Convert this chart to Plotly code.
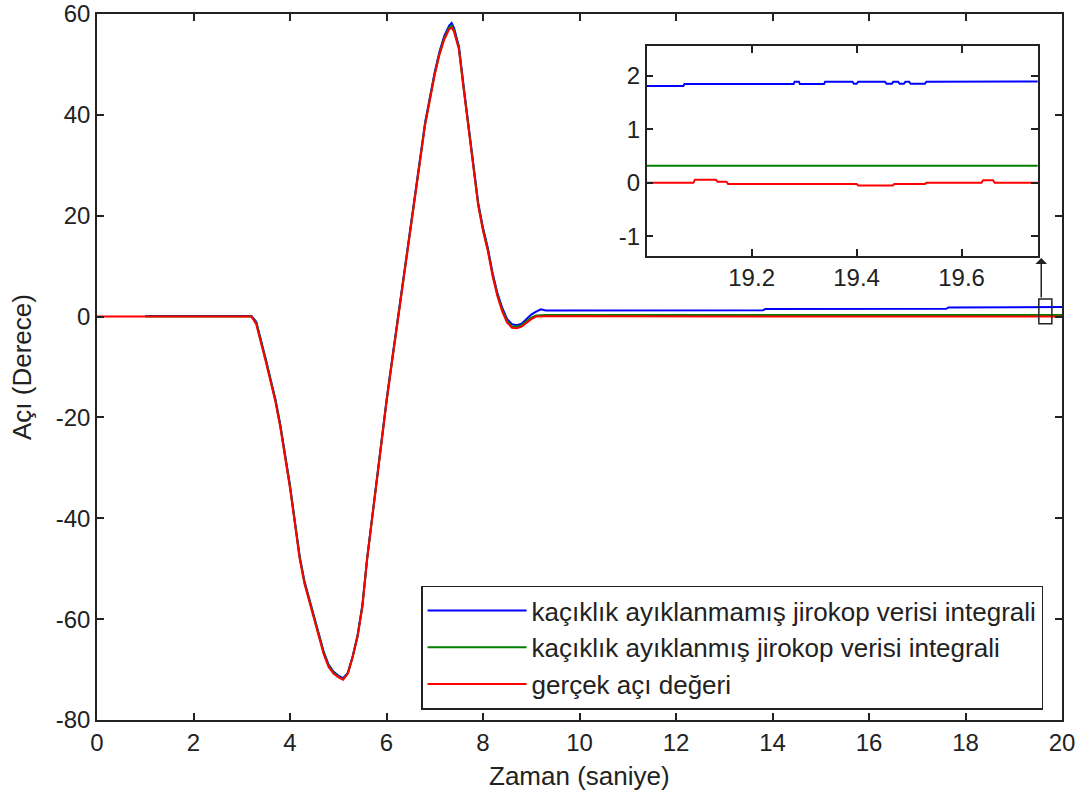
import plotly.graph_objects as go

# ---------------- data ----------------
TR_T = [3.2, 3.3, 3.4, 3.5, 3.6, 3.7, 3.8, 3.9, 4.0, 4.1, 4.2, 4.3, 4.4, 4.5, 4.6, 4.7, 4.8, 4.9,
        5.0, 5.1, 5.2, 5.3, 5.4, 5.5, 5.6, 5.7, 5.8, 5.9, 6.0, 6.1, 6.2, 6.3, 6.4, 6.5, 6.6, 6.7,
        6.8, 6.9, 7.0, 7.1, 7.2, 7.3, 7.35, 7.4, 7.5, 7.6, 7.7, 7.8, 7.9, 8.0, 8.1, 8.2, 8.3, 8.4,
        8.5, 8.6, 8.7, 8.8, 8.9, 9.0, 9.1, 9.2, 9.3]

red_pre_t = [0, 1, 2, 3]
red_pre_v = [0, 0, 0, 0]
red_tr_v = [0, -1.5, -5, -9, -13, -17, -22, -28, -34, -41, -48, -53, -56.5, -60, -63.5, -67, -69.5,
            -70.8, -71.5, -72, -70.8, -67.5, -63.5, -57.5, -48, -40, -33, -25, -17, -10, -3, 4, 11,
            18, 25, 32, 38, 43, 48, 52, 55, 57, 57.3, 56.5, 53, 45, 37, 29, 22, 17, 13, 8, 4, 1,
            -1.2, -2.2, -2.3, -2.0, -1.3, -0.5, 0, 0.1, 0.05]
red_post_t = [10, 12, 14, 16, 18, 19.0, 19.089, 19.092, 19.132, 19.135, 19.152, 19.155, 19.40,
              19.403, 19.469, 19.472, 19.53, 19.533, 19.638, 19.641, 19.66, 19.663, 20.0]
red_post_v = [0.05, 0.05, 0.05, 0.05, 0.05, 0.0, 0.0, 0.06, 0.06, 0.02, 0.02, -0.02, -0.02,
              -0.05, -0.05, -0.02, -0.02, 0.0, 0.0, 0.05, 0.05, 0.0, 0.0]

blue_pre_t = [1, 2, 3]
blue_pre_v = [0.1, 0.1, 0.1]
blue_tr_v = [0.1, -1.0, -4.5, -8.5, -12.5, -16.5, -21.5, -27.5, -33.5, -40.5, -47.5, -52.5, -56,
             -59.5, -63, -66.5, -69, -70.4, -71.2, -71.7, -70.6, -67.3, -63.2, -57.2, -47.8, -39.7,
             -32.6, -24.6, -16.6, -9.6, -2.6, 4.5, 11.5, 18.5, 25.5, 32.5, 38.5, 43.5, 48.5, 52.6,
             55.7, 57.7, 58.2, 57.2, 53.6, 45.6, 37.6, 29.6, 22.6, 17.6, 13.6, 8.6, 4.6, 1.7, -0.5,
             -1.5, -1.7, -1.4, -0.5, 0.4, 1.0, 1.45, 1.2]
blue_post_t = [9.5, 12, 13.8, 13.85, 17.6, 17.65, 19.0, 19.07, 19.072, 19.28, 19.282, 19.29,
               19.292, 19.338, 19.34, 19.392, 19.395, 19.40, 19.403, 19.454, 19.457, 19.467,
               19.47, 19.479, 19.482, 19.49, 19.493, 19.50, 19.503, 19.53, 19.533, 20.0]
blue_post_v = [1.2, 1.25, 1.25, 1.5, 1.55, 1.8, 1.81, 1.81, 1.845, 1.845, 1.89, 1.89, 1.845,
               1.845, 1.89, 1.89, 1.85, 1.85, 1.89, 1.89, 1.85, 1.85, 1.89, 1.89, 1.85, 1.85,
               1.89, 1.89, 1.85, 1.85, 1.89, 1.9]

green_pre_t = [1, 2, 3]
green_pre_v = [0, 0, 0]
green_tr_v = [0, -1.2, -4.7, -8.7, -12.7, -16.7, -21.7, -27.7, -33.7, -40.7, -47.7, -52.7, -56.2,
              -59.7, -63.2, -66.7, -69.2, -70.6, -71.4, -71.9, -70.7, -67.4, -63.4, -57.4, -47.9,
              -39.9, -32.8, -24.8, -16.8, -9.8, -2.8, 4.2, 11.2, 18.2, 25.2, 32.2, 38.2, 43.2,
              48.2, 52.3, 55.3, 57.3, 57.7, 56.8, 53.3, 45.3, 37.3, 29.3, 22.3, 17.3, 13.3, 8.3,
              4.3, 1.3, -0.9, -1.9, -2.0, -1.7, -1.0, -0.2, 0.2, 0.3, 0.32]
green_post_t = [20.0]
green_post_v = [0.32]

names = ["kaçıklık ayıklanmamış jirokop verisi integrali",
         "kaçıklık ayıklanmış jirokop verisi integrali",
         "gerçek açı değeri"]
colors = ["#0000FF", "#008000", "#FF0000"]

x_ticks = [0, 2, 4, 6, 8, 10, 12, 14, 16, 18, 20]
y_ticks = [-80, -60, -40, -20, 0, 20, 40, 60]
y_ticklabels = ["-80", "-60", "-40", "-20", "0", "20", "40", "60"]
inset_x_ticks = [19.2, 19.4, 19.6]
inset_x_labels = ["19.2", "19.4", "19.6"]
inset_y_ticks = [-1, 0, 1, 2]
inset_y_labels = ["-1", "0", "1", "2"]

series = [
    (blue_pre_t + TR_T + blue_post_t, blue_pre_v + blue_tr_v + blue_post_v),
    (green_pre_t + TR_T + green_post_t, green_pre_v + green_tr_v + green_post_v),
    (red_pre_t + TR_T + red_post_t, red_pre_v + red_tr_v + red_post_v),
]

FONT = "Liberation Sans, Arial, sans-serif"

fig = go.Figure()
for (t, v), nm, c in zip(series, names, colors):
    fig.add_trace(go.Scatter(x=t, y=v, mode="lines", name=nm,
                             line=dict(color=c, width=2), xaxis="x", yaxis="y"))
for (t, v), nm, c in zip(series, names, colors):
    fig.add_trace(go.Scatter(x=t, y=v, mode="lines", name=nm, showlegend=False,
                             line=dict(color=c, width=2), xaxis="x2", yaxis="y2"))

axis_common = dict(showgrid=False, zeroline=False, showline=True, linecolor="#222",
                   linewidth=1.5, mirror="ticks", ticks="inside", ticklen=7,
                   tickcolor="#222", tickwidth=1.5, automargin=False,
                   ticklabeloverflow="allow",
                   tickfont=dict(family=FONT, size=24, color="#222"))

fig.update_layout(
    width=1090, height=799,
    paper_bgcolor="white", plot_bgcolor="white",
    margin=dict(l=97, r=28, t=14, b=79),
    showlegend=True,
    xaxis=dict(range=[0, 20], tickvals=x_ticks, domain=[0, 1], **axis_common),
    yaxis=dict(range=[-80, 60], tickvals=y_ticks, ticktext=y_ticklabels, domain=[0, 1],
               **axis_common),
    xaxis2=dict(range=[19.0, 19.745], tickvals=inset_x_ticks, ticktext=inset_x_labels,
                domain=[0.5696, 0.9748], anchor="y2", **axis_common),
    yaxis2=dict(range=[-1.36, 2.56], tickvals=inset_y_ticks, ticktext=inset_y_labels,
                domain=[0.6577, 0.955], anchor="x2", **axis_common),
    legend=dict(x=0.3358, y=0.1905, xanchor="left", yanchor="top",
                bgcolor="white", bordercolor="#222", borderwidth=1.5,
                font=dict(family=FONT, size=26, color="#222"),
                itemwidth=99, tracegroupgap=0),
    annotations=[
        dict(text="Zaman (saniye)", x=0.5, y=-0.079, xref="paper", yref="paper",
             showarrow=False, font=dict(family=FONT, size=26, color="#222"),
             xanchor="center", yanchor="middle"),
        dict(text="Açı (Derece)", x=-0.0777, y=0.5, xref="paper", yref="paper",
             showarrow=False, textangle=-90, font=dict(family=FONT, size=26, color="#222"),
             xanchor="center", yanchor="middle"),
        dict(x=19.57, y=11.6, xref="x", yref="y", ax=19.57, ay=3.5, axref="x", ayref="y",
             showarrow=True, arrowhead=1, arrowsize=1.3, arrowwidth=1.5, arrowcolor="#222",
             text="", standoff=0, startstandoff=0),
    ],
    shapes=[
        dict(type="rect", xref="x", yref="y", x0=19.52, x1=19.79, y0=-1.4, y1=3.5,
             line=dict(color="#222", width=1.5), fillcolor="rgba(0,0,0,0)"),
    ],
)

fig.write_html("out.html",
               config={"displayModeBar": False},
               post_script="document.body.style.margin='0';document.body.style.overflow='hidden';")
